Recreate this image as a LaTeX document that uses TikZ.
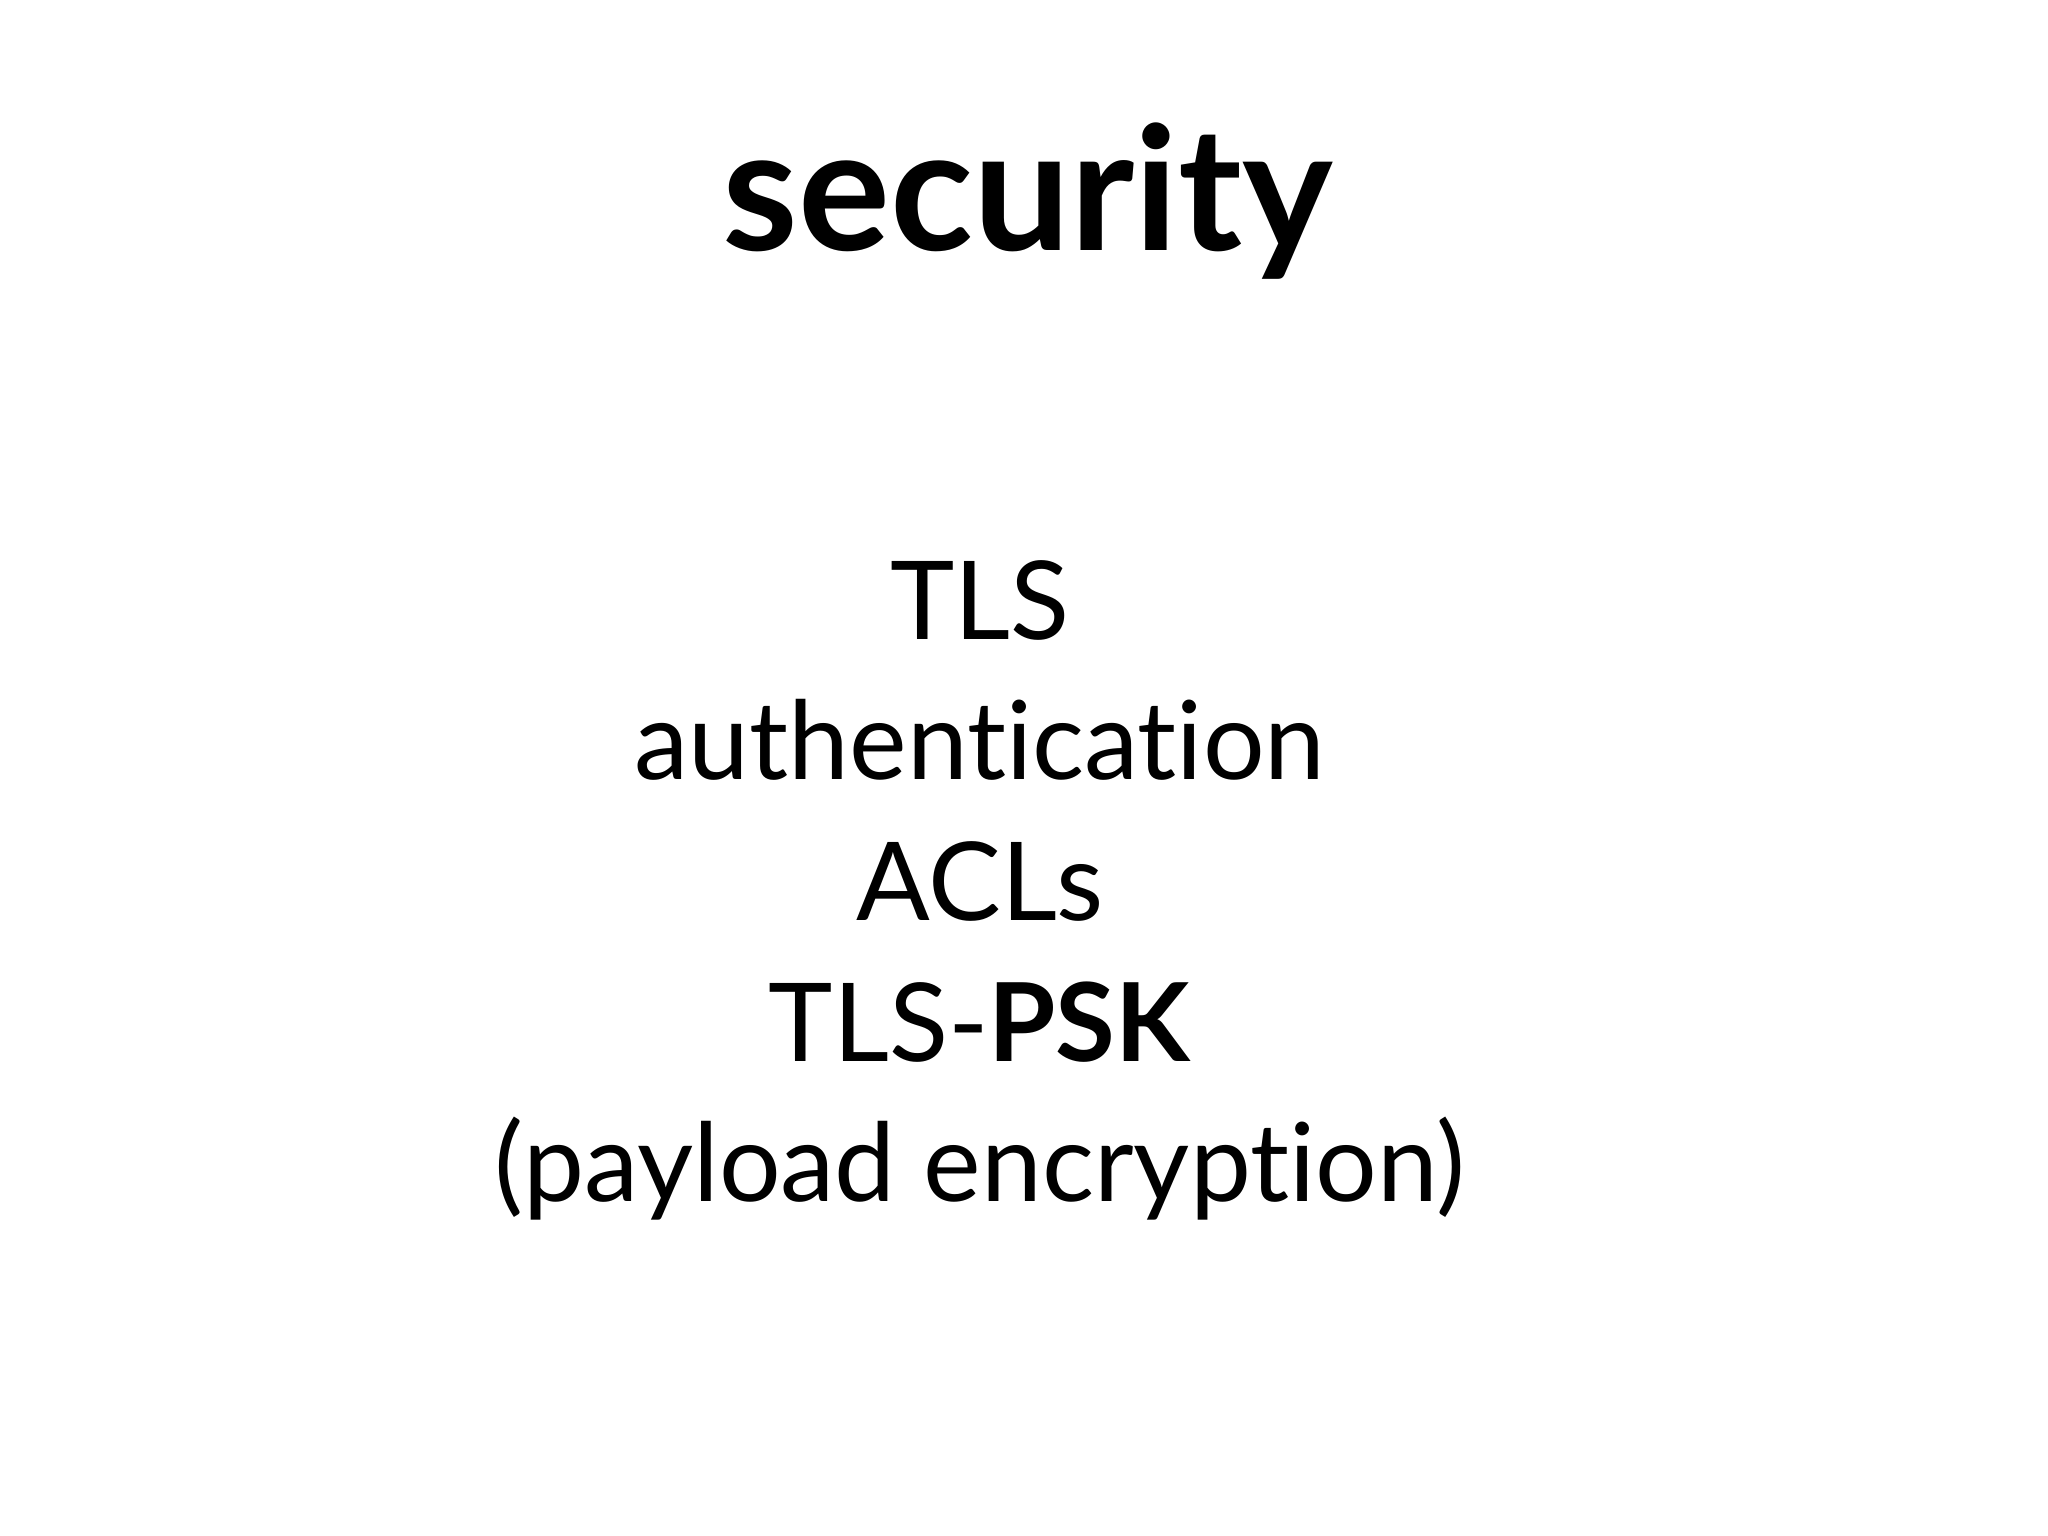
\documentclass[tikz,border=0pt]{standalone}
\usepackage{fontspec}
\setmainfont{Lato}[Ligatures={NoCommon,NoDiscretionary,NoRare}]
\begin{document}
\begin{tikzpicture}
\tikzset{line/.style={anchor=base,inner sep=0pt,font=\fontsize{31pt}{36pt}\selectfont}}
\useasboundingbox (0,0) rectangle (20.48,15.36);
\node[anchor=base,inner sep=0pt,font=\fontsize{49pt}{56pt}\selectfont\bfseries] (title) at (10.28,12.85) {security};
\node[line] (tls) at (9.8,8.96) {TLS};
\node[line] (auth) at (9.8,7.56) {authentication};
\node[line] (acl) at (9.8,6.15) {ACLs};
\node[line] (psk) at (9.8,4.74) {TLS-\textbf{PSK}};
\node[line] (pay) at (9.8,3.34) {(payload encryption)};
\end{tikzpicture}
\end{document}
